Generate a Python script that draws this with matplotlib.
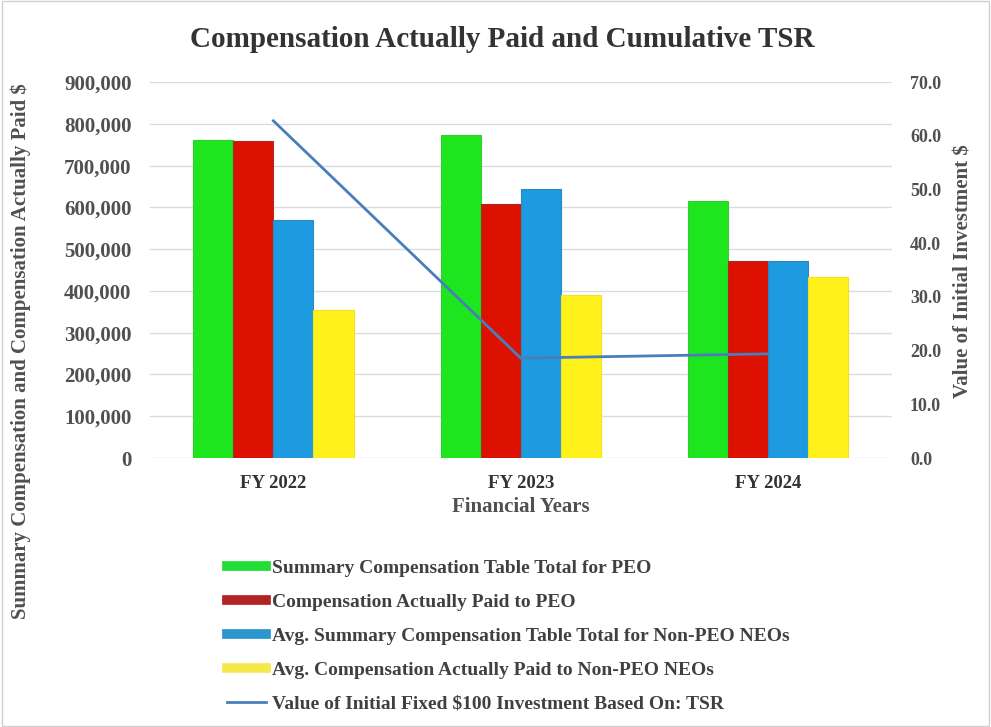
import matplotlib
matplotlib.use("Agg")
import matplotlib.pyplot as plt
import numpy as np
from matplotlib.lines import Line2D
from matplotlib.patches import Rectangle

categories = ["FY 2022", "FY 2023", "FY 2024"]
sct_peo = [762000, 774000, 615000]
cap_peo = [759000, 608000, 471000]
avg_sct_neo = [569000, 645000, 471000]
avg_cap_neo = [354000, 390000, 433000]
tsr = [62.8, 18.6, 19.4]

series_labels = [
    "Summary Compensation Table Total for PEO",
    "Compensation Actually Paid to PEO",
    "Avg. Summary Compensation Table Total for Non-PEO NEOs",
    "Avg. Compensation Actually Paid to Non-PEO NEOs",
]
line_label = "Value of Initial Fixed $100 Investment Based On: TSR"
left_ticks = [0, 100000, 200000, 300000, 400000, 500000, 600000, 700000, 800000, 900000]
right_ticks = [0, 10, 20, 30, 40, 50, 60, 70]

colors = ["#1EE61E", "#DD1100", "#1E9AE0", "#FFF21A"]
legend_colors = ["#22DD33", "#B22222", "#2A96CC", "#F5E84A"]
line_color = "#4A7EBB"
text_color = "#505050"
serif = ["Liberation Serif", "DejaVu Serif"]

plt.rcParams["font.family"] = serif
plt.rcParams["font.weight"] = "bold"

fig = plt.figure(figsize=(9.91, 7.27), dpi=100)
fig.patch.set_facecolor("white")
fig.add_artist(Rectangle((0.002, 0.002), 0.996, 0.996, transform=fig.transFigure,
                         fill=False, edgecolor="#d0d0d0", lw=1))

ax = fig.add_axes([0.151, 0.370, 0.749, 0.517])
x = np.arange(len(categories))
w = 0.162
data = [sct_peo, cap_peo, avg_sct_neo, avg_cap_neo]
edge = ["#33cc33", "#a52a2a", "#2a8ac0", "#f5e020"]
for i, (vals, c) in enumerate(zip(data, colors)):
    ax.bar(x + (i - 1.5) * w, vals, width=w, color=c, edgecolor=edge[i], lw=0.8,
           label=series_labels[i], zorder=3)

ax.set_xlim(-0.5, 2.5)
ax.set_ylim(0, 900000)
ax.set_yticks(left_ticks)
ax.set_yticklabels([f"{v:,}" for v in left_ticks], fontsize=15, color=text_color, fontweight="bold")
ax.set_xticks(x)
ax.set_xticklabels(categories, fontsize=13.5, color="#333333", fontweight="bold")
ax.tick_params(axis="y", length=0, pad=13)
ax.tick_params(axis="x", length=0, pad=12)
ax.grid(axis="y", color="#dcdcdc", lw=1, zorder=0)
for s in ax.spines.values():
    s.set_visible(False)
ax.set_xlabel("Financial Years", fontsize=15, color=text_color, fontweight="bold", labelpad=4)

ax2 = ax.twinx()
ax2.plot(x, tsr, color=line_color, lw=2, zorder=5)
ax2.set_ylim(0, 70)
ax2.set_yticks(right_ticks)
ax2.set_yticklabels([f"{v:.1f}" for v in right_ticks], fontsize=13, color=text_color, fontweight="bold")
ax2.tick_params(length=0, pad=13)
for s in ax2.spines.values():
    s.set_visible(False)

fig.text(0.507, 0.945, "Compensation Actually Paid and Cumulative TSR", ha="center", va="center",
         fontsize=21, fontweight="bold", color="#333333")
fig.text(0.021, 0.517, "Summary Compensation and Compensation Actually Paid $", rotation=90,
         ha="center", va="center", fontsize=15, fontweight="bold", color=text_color)
fig.text(0.972, 0.627, "Value of Initial Investment $", rotation=90,
         ha="center", va="center", fontsize=15, fontweight="bold", color=text_color)

handles = [Line2D([0], [0], color=c, lw=7) for c in legend_colors]
handles.append(Line2D([0], [0], color=line_color, lw=2))
labels = series_labels + [line_label]
leg = fig.legend(handles, labels, loc="upper left", bbox_to_anchor=(0.221, 0.241),
                 frameon=False, fontsize=14, labelspacing=0.84, handlelength=2.0,
                 handletextpad=0.3, borderaxespad=0)
for t in leg.get_texts():
    t.set_color("#404040")
    t.set_fontweight("bold")

fig.savefig("out.png", dpi=100, facecolor="white")
